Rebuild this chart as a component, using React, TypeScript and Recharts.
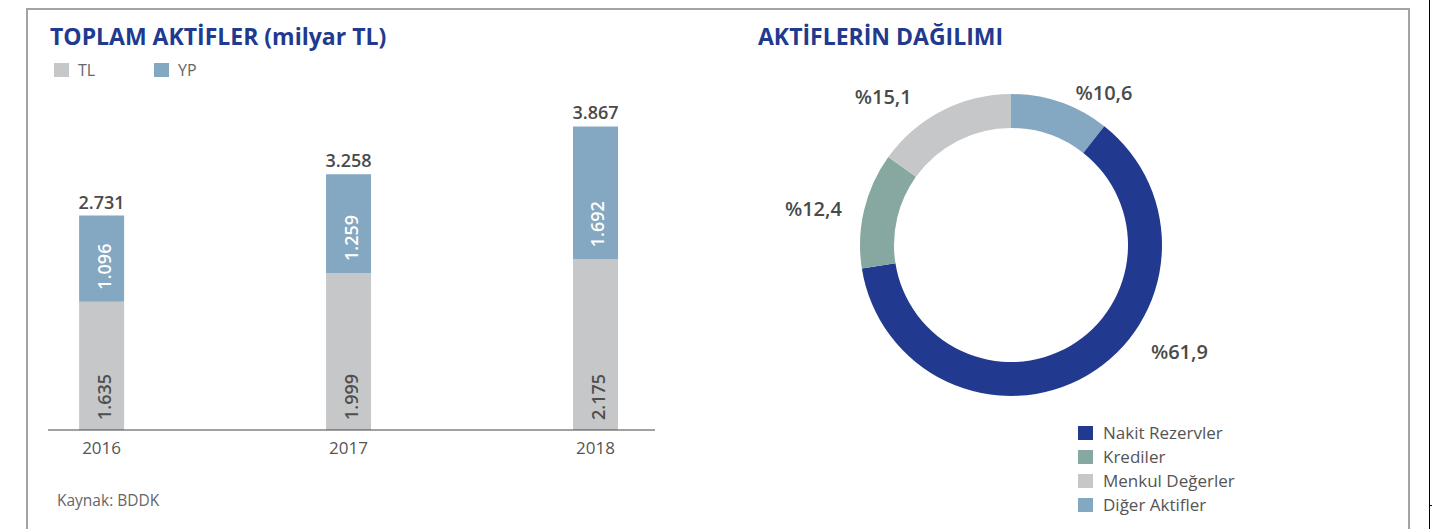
import { Bar, BarChart, Cell, LabelList, Pie, PieChart, XAxis, YAxis } from "recharts";

// Toplam aktifler, milyar TL
const YEARS = [2016, 2017, 2018];
const TL_VALUES = [1635, 1999, 2175];
const YP_VALUES = [1096, 1259, 1692];
const TOTALS = [2731, 3258, 3867];

// Aktiflerin dağılımı, % (drawn clockwise from 12 o'clock)
const SLICE_NAMES = ["Diğer Aktifler", "Nakit Rezervler", "Krediler", "Menkul Değerler"];
const SLICE_SHARES = [10.6, 61.9, 12.4, 15.1];
const LEGEND_NAMES = ["Nakit Rezervler", "Krediler", "Menkul Değerler", "Diğer Aktifler"];

const FONT = "'Open Sans', 'Noto Sans', sans-serif";
const TITLE_BLUE = "#213a8f";
const TEXT_GRAY = "#555555";
const DARK_TEXT = "#4a4a4a";
const TL_COLOR = "#c6c7c9";
const YP_COLOR = "#84a7c2";

const SLICE_COLORS: Record<string, string> = {
  "Nakit Rezervler": "#213a8f",
  Krediler: "#87a8a0",
  "Menkul Değerler": "#c6c7c9",
  "Diğer Aktifler": "#84a7c2",
};

// label placement around the donut: [angle in degrees, distance from centre]
const PIE_LABEL_POLAR: [number, number][] = [
  [58.7, 179],
  [-32.2, 199],
  [169.4, 201],
  [130.7, 196],
];

const fmt = (n: number) => String(n).replace(/\B(?=(\d{3})+(?!\d))/g, ".");
const pct = (n: number) => "%" + n.toFixed(1).replace(".", ",");

const barData = YEARS.map((year, i) => ({
  year,
  tl: TL_VALUES[i],
  yp: YP_VALUES[i],
  total: TOTALS[i],
}));

const pieData = SLICE_NAMES.map((name, i) => ({ name, value: SLICE_SHARES[i] }));

const insideLabel = (fill: string, gap: number) => (props: any) => {
  const vb = props.viewBox ?? props;
  const x = vb.x + vb.width / 2 + 2;
  const y = vb.y + vb.height - gap;
  return (
    <text
      x={x}
      y={y}
      transform={`rotate(-90 ${x} ${y})`}
      textAnchor="start"
      dominantBaseline="central"
      fill={fill}
      fontSize={18}
      fontWeight={600}
      fontFamily={FONT}
    >
      {fmt(Number(props.value))}
    </text>
  );
};

const renderPieLabel = (props: any) => {
  const { cx, cy, index, value } = props;
  const [angle, r] = PIE_LABEL_POLAR[index];
  const rad = (angle * Math.PI) / 180;
  return (
    <text
      x={cx + r * Math.cos(rad)}
      y={cy - r * Math.sin(rad)}
      textAnchor="middle"
      dominantBaseline="central"
      fill={DARK_TEXT}
      fontSize={20}
      fontWeight={600}
      fontFamily={FONT}
    >
      {pct(Number(value))}
    </text>
  );
};

const title: React.CSSProperties = {
  position: "absolute",
  top: 24.5,
  fontSize: 23,
  lineHeight: "23px",
  fontWeight: 700,
  color: TITLE_BLUE,
  whiteSpace: "nowrap",
};

export default function App() {
  return (
    <div
      style={{
        position: "absolute",
        left: 0,
        top: 0,
        width: 1432,
        height: 529,
        overflow: "hidden",
        background: "#fff",
        fontFamily: FONT,
      }}
    >
      {/* frame */}
      <div
        style={{
          position: "absolute",
          left: 26,
          top: 8,
          width: 1384,
          height: 600,
          boxSizing: "border-box",
          border: "2px solid #a3a3a3",
        }}
      />
      <div style={{ position: "absolute", left: 1429, top: 0, width: 1, height: 529, background: "#000" }} />
      <div style={{ position: "absolute", left: 1429, top: 505, width: 3, height: 1, background: "#000" }} />

      <div style={{ ...title, left: 50 }}>TOPLAM AKTİFLER (milyar TL)</div>
      <div style={{ ...title, left: 758 }}>AKTİFLERİN DAĞILIMI</div>

      {/* bar legend */}
      {[
        { name: "TL", color: TL_COLOR, left: 54 },
        { name: "YP", color: YP_COLOR, left: 154 },
      ].map((item) => (
        <div
          key={item.name}
          style={{
            position: "absolute",
            left: item.left,
            top: 60,
            height: 20,
            display: "flex",
            alignItems: "center",
            fontSize: 16,
            lineHeight: "20px",
            color: "#666",
          }}
        >
          <span style={{ width: 15, height: 14, background: item.color, marginRight: 9 }} />
          {item.name}
        </div>
      ))}

      <div style={{ position: "absolute", left: 0, top: 0 }}>
        <BarChart
          width={700}
          height={529}
          data={barData}
          margin={{ top: 116, right: 45, bottom: 69, left: 48 }}
        >
          <XAxis
            type="number"
            dataKey="year"
            domain={[2015.783, 2018.241]}
            ticks={YEARS}
            interval={0}
            allowDataOverflow
            height={30}
            axisLine={{ stroke: "#444", strokeWidth: 1 }}
            tickLine={false}
            tickSize={0}
            tickMargin={12}
            tick={{ fontSize: 17, fill: TEXT_GRAY, fontFamily: FONT }}
            tickFormatter={(v) => String(v)}
          />
          <YAxis hide width={0} domain={[0, 4000]} />
          <Bar dataKey="tl" stackId="a" fill={TL_COLOR} barSize={45} isAnimationActive={false}>
            <LabelList dataKey="tl" content={insideLabel("#4f4f4f", 10)} />
          </Bar>
          <Bar dataKey="yp" stackId="a" fill={YP_COLOR} barSize={45} isAnimationActive={false}>
            <LabelList dataKey="yp" content={insideLabel("#ffffff", 12)} />
            <LabelList
              dataKey="total"
              position="top"
              offset={7}
              fill={DARK_TEXT}
              fontSize={18}
              fontWeight={600}
              fontFamily={FONT}
              formatter={(v: any) => fmt(Number(v))}
            />
          </Bar>
        </BarChart>
      </div>

      <div style={{ position: "absolute", left: 700, top: 0 }}>
        <PieChart width={700} height={529} margin={{ top: 0, right: 0, bottom: 0, left: 0 }}>
          <Pie
            data={pieData}
            dataKey="value"
            nameKey="name"
            cx={311}
            cy={245}
            innerRadius={117}
            outerRadius={151}
            startAngle={90}
            endAngle={-270}
            stroke="none"
            label={renderPieLabel}
            labelLine={false}
            isAnimationActive={false}
          >
            {pieData.map((d) => (
              <Cell key={d.name} fill={SLICE_COLORS[d.name]} />
            ))}
          </Pie>
        </PieChart>
      </div>

      {/* donut legend */}
      <div style={{ position: "absolute", left: 1078, top: 421 }}>
        {LEGEND_NAMES.map((name) => (
          <div
            key={name}
            style={{
              height: 24,
              display: "flex",
              alignItems: "center",
              fontSize: 17,
              lineHeight: "24px",
              color: TEXT_GRAY,
              whiteSpace: "nowrap",
            }}
          >
            <span style={{ width: 15, height: 14, background: SLICE_COLORS[name], marginRight: 10 }} />
            {name}
          </div>
        ))}
      </div>

      <div
        style={{
          position: "absolute",
          left: 57,
          top: 490,
          fontSize: 15.5,
          lineHeight: "20px",
          color: "#666",
        }}
      >
        Kaynak: BDDK
      </div>
    </div>
  );
}
